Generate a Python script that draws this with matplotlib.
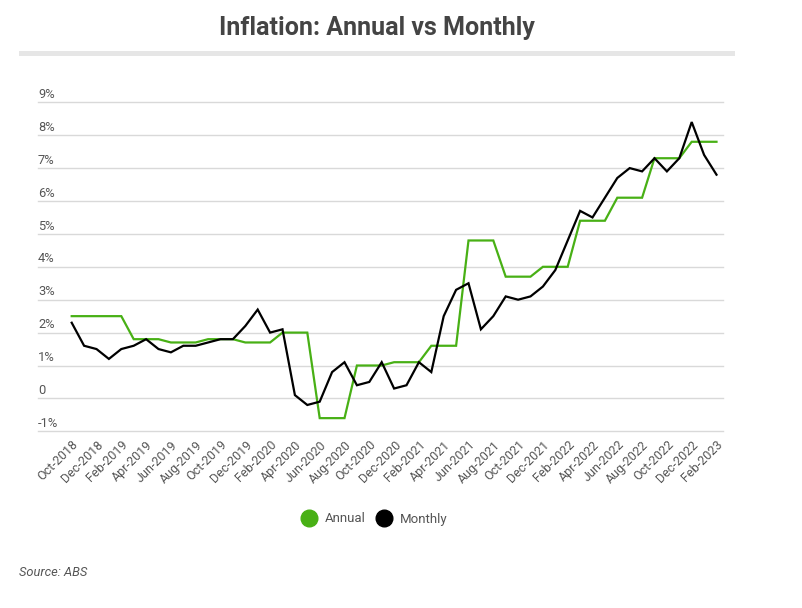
import matplotlib
matplotlib.use("Agg")
import matplotlib.pyplot as plt
from matplotlib.lines import Line2D

months = ["Oct-2018","Nov-2018","Dec-2018","Jan-2019","Feb-2019","Mar-2019","Apr-2019","May-2019",
          "Jun-2019","Jul-2019","Aug-2019","Sep-2019","Oct-2019","Nov-2019","Dec-2019","Jan-2020",
          "Feb-2020","Mar-2020","Apr-2020","May-2020","Jun-2020","Jul-2020","Aug-2020","Sep-2020",
          "Oct-2020","Nov-2020","Dec-2020","Jan-2021","Feb-2021","Mar-2021","Apr-2021","May-2021",
          "Jun-2021","Jul-2021","Aug-2021","Sep-2021","Oct-2021","Nov-2021","Dec-2021","Jan-2022",
          "Feb-2022","Mar-2022","Apr-2022","May-2022","Jun-2022","Jul-2022","Aug-2022","Sep-2022",
          "Oct-2022","Nov-2022","Dec-2022","Jan-2023","Feb-2023"]

annual = [2.5, 2.5, 2.5, 2.5, 2.5, 1.8, 1.8, 1.8, 1.7, 1.7, 1.7, 1.8, 1.8, 1.8,
          1.7, 1.7, 1.7, 2.0, 2.0, 2.0, -0.6, -0.6, -0.6, 1.0, 1.0, 1.0, 1.1, 1.1, 1.1,
          1.6, 1.6, 1.6, 4.8, 4.8, 4.8, 3.7, 3.7, 3.7, 4.0, 4.0, 4.0, 5.4, 5.4, 5.4,
          6.1, 6.1, 6.1, 7.3, 7.3, 7.3, 7.8, 7.8, 7.8]

monthly = [2.3, 1.6, 1.5, 1.2, 1.5, 1.6, 1.8, 1.5, 1.4, 1.6, 1.6, 1.7, 1.8, 1.8,
           2.2, 2.7, 2.0, 2.1, 0.1, -0.2, -0.1, 0.8, 1.1, 0.4, 0.5, 1.1, 0.3, 0.4, 1.1,
           0.8, 2.5, 3.3, 3.5, 2.1, 2.5, 3.1, 3.0, 3.1, 3.4, 3.9, 4.8, 5.7, 5.5, 6.1,
           6.7, 7.0, 6.9, 7.3, 6.9, 7.3, 8.4, 7.4, 6.8]

y_ticks = [-1, 0, 1, 2, 3, 4, 5, 6, 7, 8, 9]
y_labels = ["-1%", "0", "1%", "2%", "3%", "4%", "5%", "6%", "7%", "8%", "9%"]

GREEN = "#48b015"
BLACK = "#000000"
GRAY = "#555555"

fig = plt.figure(figsize=(8.02, 6.08), dpi=100)
ax = fig.add_axes([38/802, 1-431.3/608, (722.7-38)/802, (431.3-102.3)/608])

x = list(range(len(months)))
ax.plot(x, annual, color=GREEN, lw=1.6, solid_joinstyle="miter", zorder=3)
ax.plot(x, monthly, color=BLACK, lw=1.6, solid_joinstyle="miter", zorder=4)

ax.set_xlim((38-71.7)/12.4, (722.7-71.7)/12.4)
ax.set_ylim(-1, 9)
for s in ax.spines.values():
    s.set_visible(False)
for v in y_ticks:
    ax.axhline(v, color="#d9d9d9", lw=1.0, zorder=1, clip_on=False)
ax.set_yticks([])
for v, lab in zip(y_ticks, y_labels):
    ax.annotate(lab, xy=(0, v), xycoords=("axes fraction", "data"),
                xytext=(0, 1.0), textcoords="offset points",
                ha="left", va="bottom", fontsize=9.3, color=GRAY, family="Roboto")

tick_idx = x[::2]
ax.set_xticks(tick_idx)
ax.set_xticklabels([months[i] for i in tick_idx], rotation=45, ha="right",
                   rotation_mode="anchor", fontsize=9, color=GRAY, family="Roboto")
ax.tick_params(axis="x", length=0, pad=5)

fig.text(377/802, 1-28/608, "Inflation: Annual vs Monthly", ha="center", va="center",
         fontsize=18, fontweight="bold", color="#444444",
         family=["Liberation Sans Narrow", "Roboto"])
fig.patches.append(plt.Rectangle((19/802, 1-56/608), (735-19)/802, 5/608,
                                 transform=fig.transFigure, color="#e6e6e6", lw=0))

handles = [Line2D([], [], marker="o", ls="", color=GREEN, markersize=12),
           Line2D([], [], marker="o", ls="", color=BLACK, markersize=12)]
fig.legend(handles, ["Annual", "Monthly"], loc="center", bbox_to_anchor=(374/802, 1-519/608),
           ncol=2, frameon=False, labelcolor=GRAY, handletextpad=0.5,
           columnspacing=0.7, handlelength=1.4, prop={"family": "Roboto", "size": 9.5})

fig.text(19/802, 1-572/608, "Source: ABS", ha="left", va="center", fontsize=9.3,
         style="italic", color=GRAY, family="Roboto")

fig.savefig("out.png", dpi=100, facecolor="white")
